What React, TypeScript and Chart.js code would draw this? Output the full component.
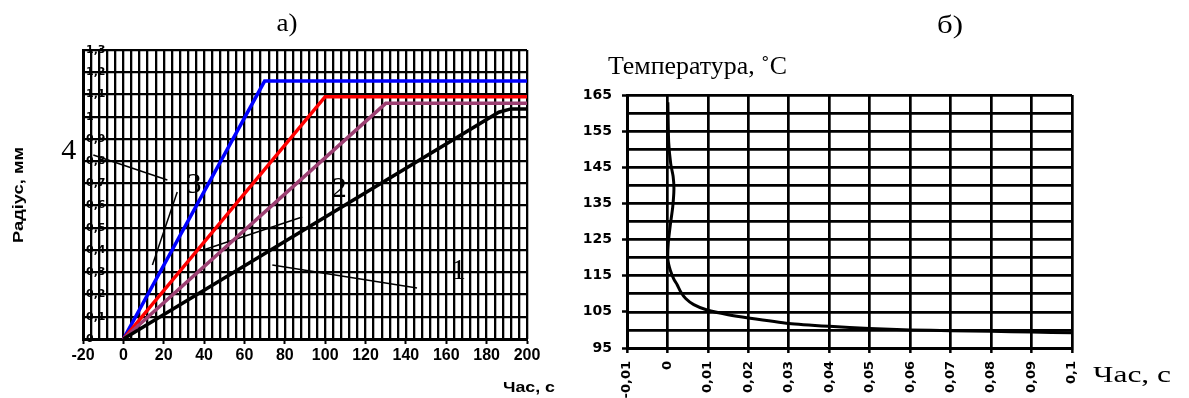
import { useEffect, useRef } from 'react';
import { Chart, registerables } from 'chart.js';

Chart.register(...registerables);

// ---------- а) radius of the zone vs time ----------
const timeBlack = [0, 186, 192, 200];
const radiusBlack = [0, 1.02, 1.035, 1.035];
const timePurple = [0, 130, 200];
const radiusPurple = [0, 1.06, 1.06];
const timeRed = [0, 100, 200];
const radiusRed = [0, 1.09, 1.09];
const timeBlue = [0, 70, 200];
const radiusBlue = [0, 1.16, 1.16];

const calloutNames = ['1', '2', '3', '4'];
const calloutTimes = [166, 107, 35, -27];
const calloutRadii = [0.306, 0.675, 0.693, 0.846];
const leaderStartTimes = [73.8, 39.6, 26.7, -14.9];
const leaderStartRadii = [0.333, 0.4, 0.661, 0.828];
const leaderEndTimes = [145.5, 88.6, 14.4, 21.8];
const leaderEndRadii = [0.229, 0.549, 0.333, 0.715];

const timeAxisA = { min: -20, max: 200, labelStep: 20, gridStep: 4 };
const radiusAxis = { min: 0, max: 1.3, step: 0.1 };

const titleA = 'а)';
const radiusTitle = 'Радіус, мм';
const timeTitleA = 'Час, с';

// ---------- б) temperature vs time ----------
const tempTimes = [0.0001, 0.0003, 0.0008, 0.0014, 0.0016, 0.0013, 0.0007, 0.0002, 0.0001, 0.0007, 0.0016, 0.0024, 0.0033, 0.0045, 0.0065, 0.0098, 0.015, 0.02, 0.03, 0.04, 0.05, 0.06, 0.07, 0.08, 0.09, 0.1];
const tempValues = [163, 152, 146, 142.5, 139, 134, 129, 124, 119.5, 116.5, 114, 112.5, 110.5, 108.7, 107, 105.5, 104.2, 103.3, 101.8, 101, 100.4, 100, 99.8, 99.6, 99.4, 99.2];

const timeAxisB = { min: -0.01, max: 0.1, step: 0.01 };
const tempAxis = { min: 95, max: 165, labelStep: 10, gridStep: 5 };

const titleB = 'б)';
const tempTitle = 'Температура, ˚С';
const timeTitleB = 'Час, с';

type TextSpec = {
  text: string;
  x: number;
  y: number;
  font: string;
  align?: 'left' | 'center' | 'right';
  fitWidth?: number;
  rotate?: number;
  baseline?: CanvasTextBaseline;
};

function paintText(ctx: CanvasRenderingContext2D, s: TextSpec) {
  ctx.save();
  ctx.font = s.font;
  ctx.fillStyle = '#000';
  ctx.textAlign = 'left';
  ctx.textBaseline = s.baseline || 'alphabetic';
  ctx.translate(s.x, s.y);
  if (s.rotate) ctx.rotate(s.rotate);
  const w = ctx.measureText(s.text).width;
  const sx = s.fitWidth ? s.fitWidth / w : 1;
  ctx.scale(sx, 1);
  const off = s.align === 'center' ? -w / 2 : s.align === 'right' ? -w : 0;
  ctx.fillText(s.text, off, 0);
  ctx.restore();
}

const toPoints = (xs: number[], ys: number[]) => xs.map((x, i) => ({ x, y: ys[i] }));

const lineSet = (xs: number[], ys: number[], color: string, width: number, tension = 0) => ({
  data: toPoints(xs, ys),
  showLine: true,
  borderColor: color,
  backgroundColor: color,
  borderWidth: width,
  pointRadius: 0,
  tension,
  fill: false,
});

const commaNum = (v: number, digits: number) => {
  const f = Math.pow(10, digits);
  return String(Math.round(v * f) / f).replace('.', ',');
};

export default function App() {
  const leftRef = useRef<HTMLCanvasElement>(null);
  const rightRef = useRef<HTMLCanvasElement>(null);

  useEffect(() => {
    const leaderSets = calloutNames.map((_, i) =>
      lineSet([leaderStartTimes[i], leaderEndTimes[i]], [leaderStartRadii[i], leaderEndRadii[i]], '#000', 1.5)
    );

    const textPluginA = {
      id: 'textA',
      afterDraw(chart: any) {
        const ctx = chart.ctx as CanvasRenderingContext2D;
        const xs = chart.scales.x;
        const ys = chart.scales.y;
        paintText(ctx, { text: titleA, x: 287, y: 31, font: '26px "Liberation Serif"', align: 'center', fitWidth: 21 });
        paintText(ctx, { text: radiusTitle, x: 23, y: 195, font: 'bold 14px "Liberation Sans"', align: 'center', rotate: -Math.PI / 2, fitWidth: 96 });
        paintText(ctx, { text: timeTitleA, x: 503, y: 392, font: 'bold 15px "Liberation Sans"', fitWidth: 52 });
        calloutNames.forEach((n, i) => {
          paintText(ctx, {
            text: n,
            x: xs.getPixelForValue(calloutTimes[i]),
            y: ys.getPixelForValue(calloutRadii[i]),
            font: '30px "Liberation Serif"',
            align: 'center',
            baseline: 'middle',
          });
        });
      },
    };

    const left = new Chart(leftRef.current as HTMLCanvasElement, {
      type: 'scatter',
      data: {
        datasets: [
          lineSet(timeBlack, radiusBlack, '#000000', 3.5),
          lineSet(timePurple, radiusPurple, '#9C3F72', 3.5),
          lineSet(timeRed, radiusRed, '#FF0000', 3.5),
          lineSet(timeBlue, radiusBlue, '#0000FF', 3.5),
          ...leaderSets,
        ] as any,
      },
      options: {
        responsive: false,
        animation: false,
        events: [],
        layout: { padding: { left: 0, top: 50, right: 53, bottom: 0 } },
        plugins: { legend: { display: false }, tooltip: { enabled: false } },
        scales: {
          x: {
            type: 'linear',
            position: 'bottom',
            min: timeAxisA.min,
            max: timeAxisA.max,
            weight: 0,
            ticks: {
              stepSize: timeAxisA.labelStep,
              autoSkip: false,
              maxRotation: 0,
              color: '#000',
              padding: 2,
              font: { family: 'Liberation Sans', weight: 'bold', size: 16 },
              callback: (v: any) => String(Math.round(Number(v))),
            },
            grid: { drawOnChartArea: false, drawTicks: true, tickLength: 5, tickWidth: 2, tickColor: '#000' },
            border: { display: true, color: '#000', width: 3 },
            afterFit: (s: any) => { s.height = 59; },
          },
          xg: {
            type: 'linear',
            position: 'bottom',
            min: timeAxisA.min,
            max: timeAxisA.max,
            weight: 1,
            ticks: { display: false, stepSize: timeAxisA.gridStep, autoSkip: false },
            grid: { color: '#000', lineWidth: 2.3, drawTicks: false },
            border: { display: false },
            afterFit: (s: any) => { s.height = 0; },
          },
          y: {
            type: 'linear',
            position: 'left',
            min: radiusAxis.min,
            max: radiusAxis.max,
            weight: 0,
            ticks: {
              stepSize: radiusAxis.step,
              autoSkip: false,
              mirror: true,
              padding: 3,
              color: '#000',
              font: { family: 'DejaVu Sans', weight: 'bold', size: 11 },
              callback: (v: any) => commaNum(Number(v), 1),
            },
            grid: { drawOnChartArea: false, drawTicks: false, tickLength: 0 },
            border: { display: true, color: '#000', width: 3 },
            afterFit: (s: any) => { s.width = 83; },
          },
          yg: {
            type: 'linear',
            position: 'left',
            min: radiusAxis.min,
            max: radiusAxis.max,
            weight: 1,
            ticks: { display: false, stepSize: radiusAxis.step, autoSkip: false },
            grid: { color: '#000', lineWidth: 2.3, drawTicks: false },
            border: { display: false },
            afterFit: (s: any) => { s.width = 0; },
          },
        },
      } as any,
      plugins: [textPluginA],
    });

    const textPluginB = {
      id: 'textB',
      afterDraw(chart: any) {
        const ctx = chart.ctx as CanvasRenderingContext2D;
        paintText(ctx, { text: titleB, x: 370, y: 33, font: '26px "Liberation Serif"', align: 'center', fitWidth: 26 });
        paintText(ctx, { text: tempTitle, x: 28, y: 74, font: '25px "Liberation Serif"', fitWidth: 179 });
        paintText(ctx, { text: timeTitleB, x: 513, y: 382, font: '23px "Liberation Serif"', fitWidth: 78 });
      },
    };

    const right = new Chart(rightRef.current as HTMLCanvasElement, {
      type: 'scatter',
      data: {
        datasets: [lineSet(tempTimes, tempValues, '#000000', 3, 0.2)] as any,
      },
      options: {
        responsive: false,
        animation: false,
        events: [],
        layout: { padding: { left: 0, top: 95, right: 117, bottom: 0 } },
        plugins: { legend: { display: false }, tooltip: { enabled: false } },
        scales: {
          x: {
            type: 'linear',
            position: 'bottom',
            min: timeAxisB.min,
            max: timeAxisB.max,
            ticks: {
              stepSize: timeAxisB.step,
              autoSkip: false,
              minRotation: 90,
              maxRotation: 90,
              padding: 8,
              color: '#000',
              font: { family: 'DejaVu Sans', weight: 'bold', size: 13 },
              callback: (v: any) => commaNum(Number(v), 2),
            },
            grid: { color: '#000', lineWidth: 2.7, drawTicks: true, tickLength: 5, tickWidth: 2.5, tickColor: '#000' },
            border: { display: true, color: '#000', width: 3 },
            afterFit: (s: any) => { s.height = 50; },
          },
          y: {
            type: 'linear',
            position: 'left',
            min: tempAxis.min,
            max: tempAxis.max,
            weight: 0,
            ticks: {
              stepSize: tempAxis.labelStep,
              autoSkip: false,
              padding: 10,
              color: '#000',
              font: { family: 'DejaVu Sans', weight: 'bold', size: 14 },
              callback: (v: any) => String(Math.round(Number(v))),
            },
            grid: { drawOnChartArea: false, drawTicks: true, tickLength: 5, tickWidth: 2.5, tickColor: '#000' },
            border: { display: true, color: '#000', width: 3 },
            afterFit: (s: any) => { s.width = 47; },
          },
          yg: {
            type: 'linear',
            position: 'left',
            min: tempAxis.min,
            max: tempAxis.max,
            weight: 1,
            ticks: { display: false, stepSize: tempAxis.gridStep, autoSkip: false },
            grid: { color: '#000', lineWidth: 2.7, drawTicks: false },
            border: { display: false },
            afterFit: (s: any) => { s.width = 0; },
          },
        },
      } as any,
      plugins: [textPluginB],
    });

    return () => {
      left.destroy();
      right.destroy();
    };
  }, []);

  return (
    <div style={{ position: 'absolute', left: 0, top: 0, width: 1189, height: 398, background: '#fff', overflow: 'hidden' }}>
      <canvas ref={leftRef} width={580} height={398} style={{ position: 'absolute', left: 0, top: 0 }} />
      <canvas ref={rightRef} width={609} height={398} style={{ position: 'absolute', left: 580, top: 0 }} />
    </div>
  );
}
